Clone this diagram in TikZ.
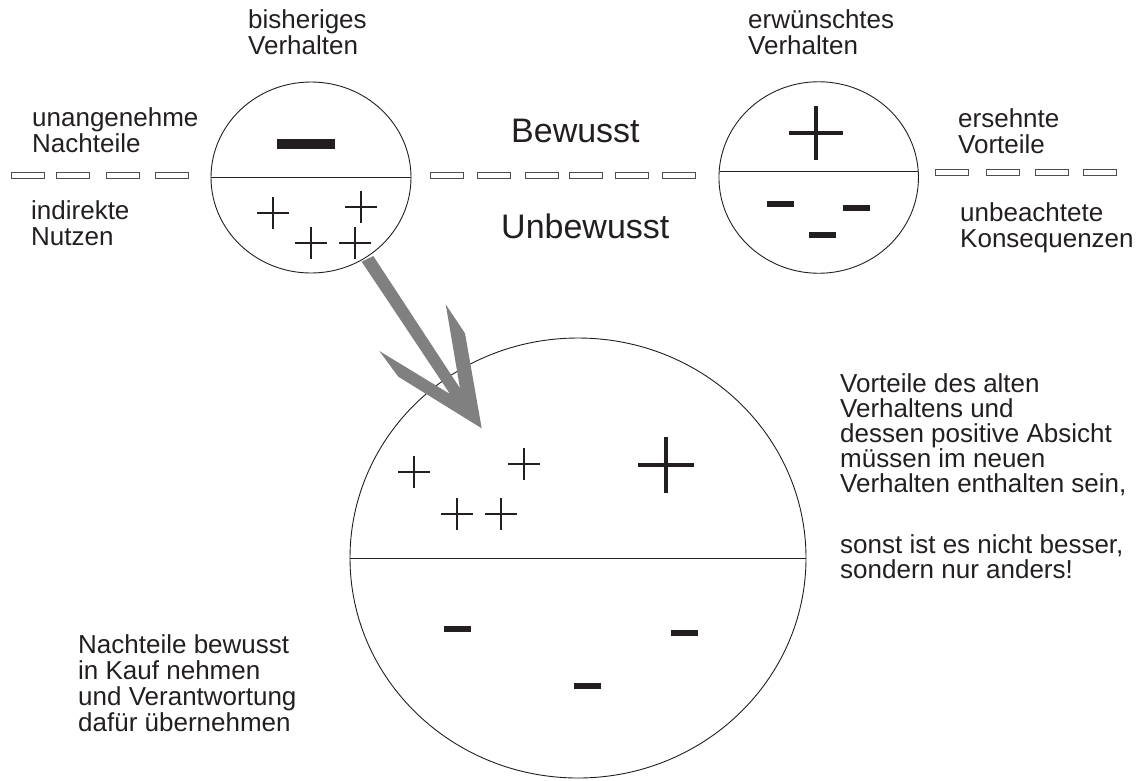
\documentclass[tikz,border=0pt]{standalone}
\usepackage{fontspec}
\setmainfont{Liberation Sans}
\usetikzlibrary{shapes.geometric}
\definecolor{ink}{RGB}{35,31,32}
\definecolor{arrowgray}{RGB}{128,128,128}
\tikzset{
  pics/smallplus/.style={code={\draw[ink, line width=2pt] (-16,0) -- (16,0) (0,-16) -- (0,16);}},
  pics/bigplus/.style={code={\draw[ink, line width=4.5pt] (-28,0) -- (28,0) (0,-28) -- (0,28);}},
  pics/minusbar/.style={code={\fill[ink] (-13.5,-3) rectangle (13.5,3);}},
}
\begin{document}
\begin{tikzpicture}[x=1pt,y=-1pt,
  lbl/.style={font=\fontsize{26}{26}\selectfont, text=ink, inner sep=0pt, anchor=base west, align=left},
  biglbl/.style={font=\fontsize{34}{34}\selectfont, text=ink, inner sep=0pt, anchor=base west},
  ring/.style={draw=ink, line width=0.9pt, ellipse, inner sep=0pt},
  divider/.style={draw=ink, line width=0.9pt},
  dashbox/.style={draw=ink!80, line width=0.8pt, fill=white, minimum width=33pt, minimum height=6pt, inner sep=0pt},
]
\useasboundingbox (0,0) rectangle (1145,780);

% circles
\node[ring, minimum width=200pt, minimum height=191pt] (c1) at (311,177.5) {};
\node[ring, minimum width=199.5pt, minimum height=191.5pt] (c2) at (818.7,177.5) {};
\node[ring, minimum width=456pt, minimum height=440pt] (c3) at (578,558) {};

% dividers
\draw[divider] (c1.west) -- (c1.east);
\draw[divider] (719.5,171) -- (917.8,171);
\draw[divider] (c3.west) -- (c3.east);

% dashed separator
\foreach \i/\x in {1/28,2/73,3/122.5,4/172}{\node[dashbox] (dl\i) at (\x,175.5) {};}
\foreach \i/\x in {1/446.5,2/494,3/542,4/585.5,5/632,6/678.5}{\node[dashbox] (dm\i) at (\x,175) {};}
\foreach \i/\x in {1/951.5,2/1002.5,3/1052,4/1100}{\node[dashbox] (dr\i) at (\x,172) {};}

% signs in left circle
\fill[ink] (277,139) rectangle (335,149);
\pic at (273,213) {smallplus};
\pic at (361,207) {smallplus};
\pic at (311,243) {smallplus};
\pic at (355,243) {smallplus};

% signs in right circle
\draw[ink, line width=4pt] (789,133) -- (843,133) (816,106) -- (816,160);
\pic at (780,204) {minusbar};
\pic at (856,208) {minusbar};
\pic at (822,235) {minusbar};

% signs in big circle
\pic at (414,472) {smallplus};
\pic at (524,464) {smallplus};
\pic at (457,514) {smallplus};
\pic at (501,514) {smallplus};
\pic at (666,465) {bigplus};
\pic at (457,629) {minusbar};
\pic at (684,633) {minusbar};
\pic at (587,686) {minusbar};

% arrow
\fill[arrowgray] (361.7,261.7) -- (450,394) -- (379.3,351) -- (398.3,376.7) -- (481.7,428.3)
  -- (465,333.3) -- (445.7,304.3) -- (460,388.3) -- (373.3,256) -- cycle;

% labels (anchor = baseline of the last line)
\node[lbl] (t1) at (248,54) {bisheriges\\Verhalten};
\node[lbl] (t2) at (748,54) {erwünschtes\\Verhalten};
\node[lbl] (t3) at (32,152) {unangenehme\\Nachteile};
\node[lbl] (t4) at (31,245) {indirekte\\Nutzen};
\node[lbl] (t5) at (958,153) {ersehnte\\Vorteile};
\node[lbl] (t6) at (960,247) {unbeachtete\\Konsequenzen};
\node[biglbl] (b1) at (511,142) {Bewusst};
\node[biglbl] (b2) at (501,238) {Unbewusst};
\node[lbl, font=\fontsize{26}{25}\selectfont] (t7) at (840,492) {Vorteile des alten\\Verhaltens und\\dessen positive Absicht\\müssen im neuen\\Verhalten enthalten sein,};
\node[lbl, font=\fontsize{26}{25}\selectfont] (t8) at (840,578) {sonst ist es nicht besser,\\sondern nur anders!};
\node[lbl] (t9) at (78,731) {Nachteile bewusst\\in Kauf nehmen\\und Verantwortung\\dafür übernehmen};
\end{tikzpicture}
\end{document}
